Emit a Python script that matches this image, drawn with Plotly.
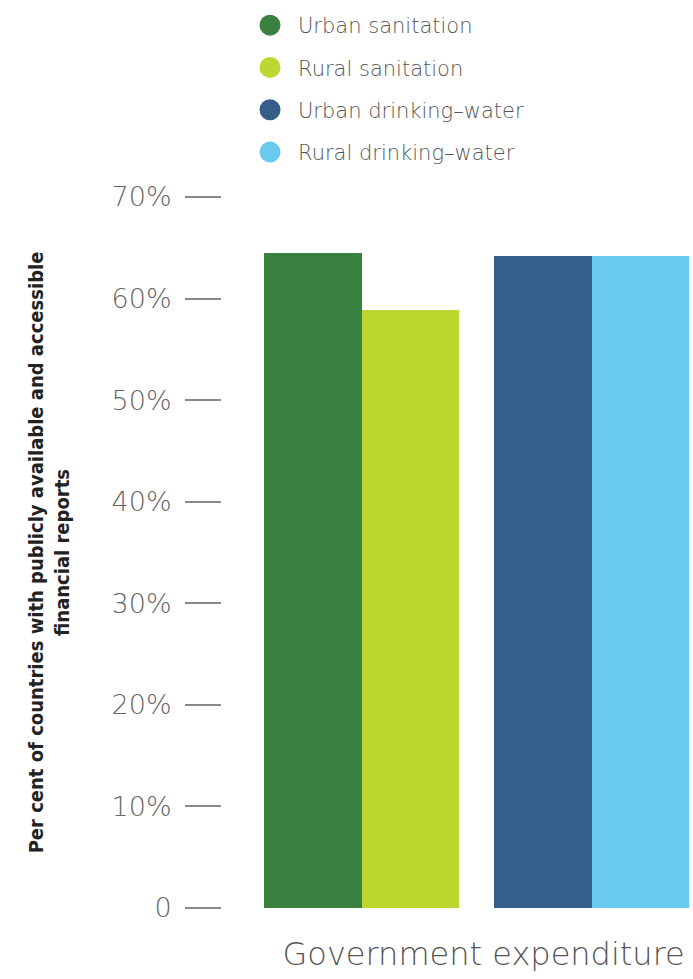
import plotly.graph_objects as go

# Data
category = "Government expenditure"
series = ["Urban sanitation", "Rural sanitation", "Urban drinking\u2013water", "Rural drinking\u2013water"]
values = [64.5, 58.9, 64.2, 64.2]
colors = ["#3a803e", "#bed630", "#355f8a", "#68caec"]
tick_values = [0, 10, 20, 30, 40, 50, 60, 70]
tick_labels = ["0", "10%", "20%", "30%", "40%", "50%", "60%", "70%"]

# Bar placement: sanitation pair, a small gap, then drinking-water pair
GAP = 0.36
positions = [i + (GAP if i >= 2 else 0) for i in range(len(series))]

PLOT_L, PLOT_R = 222, 693
fig = go.Figure()
for name, val, col, pos in zip(series, values, colors, positions):
    fig.add_trace(go.Bar(
        x=[pos], y=[val], width=1.0, marker=dict(color=col, line=dict(width=0)),
        name=name, showlegend=False, hoverinfo="skip",
    ))
    # circular legend markers
    fig.add_trace(go.Scatter(
        x=[None], y=[None], mode="markers", name=name, legendgroup=name,
        marker=dict(symbol="circle", size=16, color=col, line=dict(color=col, width=6)),
        showlegend=True,
    ))

center = (positions[0] + positions[-1]) / 2
fig.update_layout(
    width=693, height=979,
    margin=dict(l=PLOT_L, r=693 - PLOT_R, t=197, b=71),
    paper_bgcolor="white", plot_bgcolor="white",
    bargap=0,
    showlegend=True,
    legend=dict(
        x=(242 - PLOT_L) / (PLOT_R - PLOT_L), xanchor="left",
        y=1 - 5 / 979, yref="container", yanchor="top",
        font=dict(family="DejaVu Sans", size=21, color="#555555", weight=300),
        tracegroupgap=12, itemsizing="trace", itemwidth=46,
        bgcolor="rgba(0,0,0,0)",
    ),
    xaxis=dict(
        range=[-0.933, 3.90], showgrid=False, zeroline=False, showline=False,
        tickvals=[center], ticktext=[category], ticks="",
        tickfont=dict(family="DejaVu Sans", size=32, color="#555555", weight=200),
        ticklabelstandoff=24, ticklabelshift=7,
    ),
    yaxis=dict(
        range=[0, 70], tickvals=tick_values, ticktext=tick_labels,
        showgrid=False, zeroline=False, showline=False,
        ticks="outside", ticklen=36, tickwidth=1.5, tickcolor="#8a8a8a",
        tickfont=dict(family="DejaVu Sans", size=27, color="#666666", weight=200),
        ticklabelstandoff=8,
        title=dict(
            text="Per cent of countries with publicly available and accessible<br>financial reports",
            font=dict(family="DejaVu Sans Condensed, Roboto, sans-serif", size=20,
                      color="#222222", weight="bold"),
            standoff=36,
        ),
    ),
)

fig.write_html("out.html")
